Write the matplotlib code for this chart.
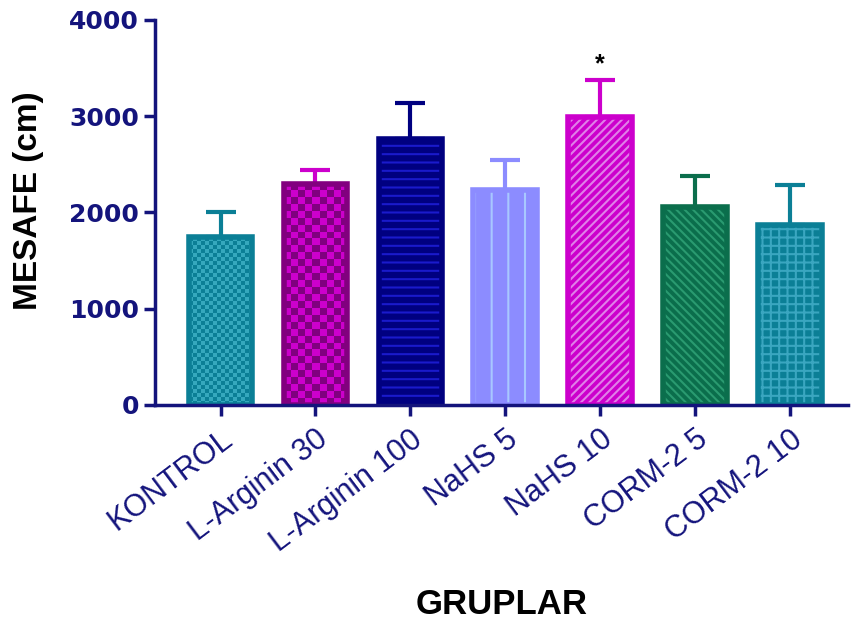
import matplotlib.pyplot as plt
from matplotlib.colors import ListedColormap
import numpy as np

plt.rcParams['font.family'] = ['Liberation Sans', 'DejaVu Sans']
plt.rcParams['hatch.linewidth'] = 1.5

groups = ['KONTROL', 'L-Arginin 30', 'L-Arginin 100', 'NaHS 5', 'NaHS 10', 'CORM-2 5', 'CORM-2 10']
means = [1745, 2296, 2764, 2234, 2992, 2057, 1870]
sem = [260, 146, 374, 311, 385, 323, 416]

face_colors = ['#0b7f96', '#cc00cc', '#000080', '#8c8cff', '#cc00cc', '#0b6e4c', '#0b7f96']
edge_colors = ['#0b7f96', '#82007f', '#000080', '#8c8cff', '#cc00cc', '#0b6e4c', '#0b7f96']
hatch_colors = ['#35a8bd', '#80007f', '#1a1acc', '#a8c8ff', '#e080e8', '#2a9a70', '#3aa6c0']
hatches = [None, None, '--', '|', '////', '\\\\\\\\', '++']
checker_px = [4, 7, 0, 0, 0, 0, 0]   # checkerboard cell size for the first two groups
axis_color = '#14147c'

fig = plt.figure(figsize=(8.52, 6.21), dpi=100)
ax = fig.add_axes([0.182, 0.348, 0.813, 0.62])
ax.set_ylim(0, 4000)
ax.set_xlim(-0.69, 6.61)

x = np.arange(len(groups))
width = 0.67

# pixels per data unit, used for the checker cell count
px_x = ax.transData.transform((1, 0))[0] - ax.transData.transform((0, 0))[0]
px_y = ax.transData.transform((0, 1000))[1] - ax.transData.transform((0, 0))[1]

for i in range(len(groups)):
    body = ax.bar(x[i], means[i], width, color=face_colors[i], linewidth=0)[0]
    if checker_px[i]:
        nx = max(1, int(round(width * px_x / checker_px[i])))
        ny = max(1, int(round(means[i] / 1000 * px_y / checker_px[i])))
        cells = np.indices((ny, nx)).sum(axis=0) % 2
        im = ax.imshow(cells, cmap=ListedColormap([face_colors[i], hatch_colors[i]]),
                       extent=(x[i] - width / 2, x[i] + width / 2, 0, means[i]),
                       aspect='auto', interpolation='nearest', zorder=1.5)
        im.set_clip_path(body)
    elif hatches[i]:
        ax.bar(x[i], means[i], width, color='none', edgecolor=hatch_colors[i],
               hatch=hatches[i], linewidth=0, zorder=1.6)
    ax.bar(x[i], means[i], width, fill=False, edgecolor=edge_colors[i], linewidth=4, zorder=2)
    ax.errorbar(x[i], means[i], yerr=[[0], [sem[i]]], fmt='none', ecolor=face_colors[i],
                elinewidth=3, capsize=11, capthick=3, zorder=1.4)

# significance mark
ax.text(x[4], means[4] + sem[4] + 40, '*', ha='center', va='bottom', fontsize=18, fontweight='bold')

ax.set_ylim(0, 4000)
ax.set_xlim(-0.69, 6.61)
ax.set_yticks([0, 1000, 2000, 3000, 4000])
ax.set_xticks(x)
ax.set_xticklabels(groups, rotation=37, ha='right', rotation_mode='anchor', fontsize=22, color=axis_color)
for lbl in ax.get_yticklabels():
    lbl.set_family(['DejaVu Sans'])
    lbl.set_fontweight('bold')
    lbl.set_color(axis_color)
    lbl.set_fontsize(18)

for side in ['top', 'right']:
    ax.spines[side].set_visible(False)
for side in ['left', 'bottom']:
    ax.spines[side].set_color(axis_color)
    ax.spines[side].set_linewidth(2.5)
ax.tick_params(axis='both', colors=axis_color, width=2.5, length=8)
ax.tick_params(axis='x', pad=6)

ax.set_ylabel('MESAFE (cm)', fontsize=24, fontweight='bold')
ax.yaxis.set_label_coords(-0.16, 0.53)
ax.set_xlabel('GRUPLAR', fontsize=25, fontweight='bold', labelpad=22)

fig.savefig('out.png', dpi=100)
